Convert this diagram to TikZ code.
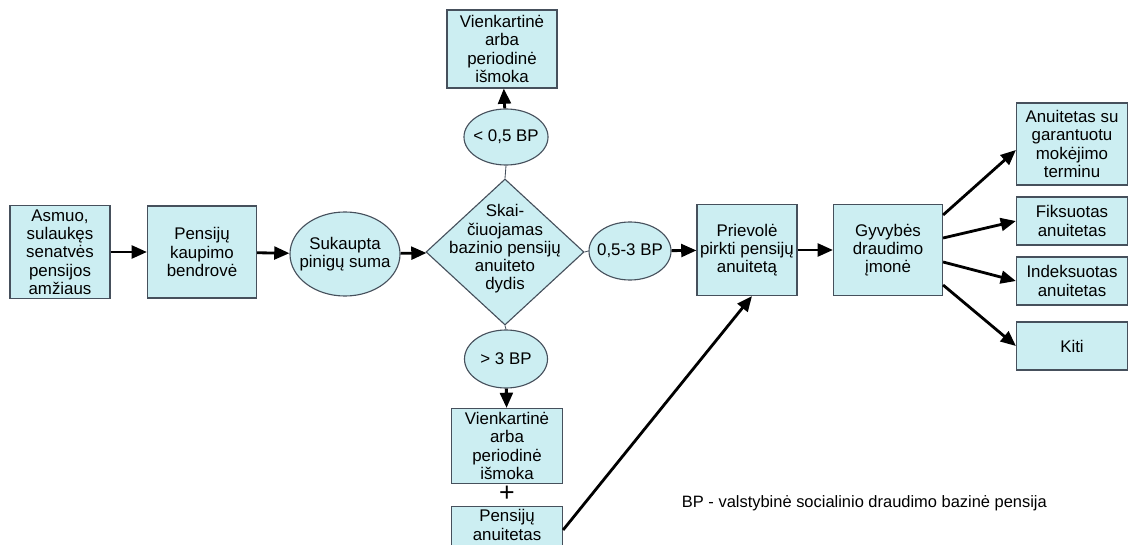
\documentclass[tikz,border=0pt]{standalone}
\usepackage{fontspec}
\setmainfont{Liberation Sans}
\usetikzlibrary{shapes.geometric,arrows.meta,calc}
\definecolor{boxfill}{RGB}{204,238,242}
\definecolor{boxline}{RGB}{70,80,92}
\begin{document}
\begin{tikzpicture}[x=0.025cm, y=-0.025cm,
  font=\fontsize{12}{13}\selectfont,
  every box/.style={draw=boxline, fill=boxfill, line width=0.8pt, align=center, inner sep=1pt},
  box/.style={every box, rectangle},
  oval/.style={every box, ellipse, inner sep=0pt},
  inside/.style={align=center, inner sep=0pt},
  link/.style={line width=2pt, -{Triangle[length=0.38cm, width=0.32cm]}},
  joinline/.style={draw=boxline, line width=0.6pt}]
\useasboundingbox (0,0) rectangle (1134,545);
\clip (0,0) rectangle (1134,545);
% main row
\node [box, minimum width=2.5cm, minimum height=2.33cm] (asmuo) at (60,252)
  {Asmuo,\\sulaukęs\\senatvės\\pensijos\\amžiaus};
\node [box, minimum width=2.725cm, minimum height=2.3cm] (fondas) at (202,252)
  {Pensijų\\kaupimo\\bendrovė};
\node [oval, minimum width=2.75cm, minimum height=2.1cm] (suma) at (345,254) {};
\node [inside] (suma-text) at (suma) {Sukaupta\\pinigų suma};
\node [every box, diamond, inner sep=0pt, minimum width=3.95cm, minimum height=3.65cm] (dydis) at (505,252) {};
\node [inside] (dydis-text) at (505,249)
  {Skai-\\čiuojamas\\bazinio pensijų\\anuiteto\\dydis};
\node [oval, minimum width=2.05cm, minimum height=1.45cm] (mid) at (630,251) {};
\node [inside] (mid-text) at (mid) {0,5-3 BP};
\node [box, minimum width=2.5cm, minimum height=2.275cm] (prievole) at (747,250)
  {Prievolė\\pirkti pensijų\\anuitetą};
\node [box, minimum width=2.725cm, minimum height=2.275cm] (imone) at (888,250)
  {Gyvybės\\draudimo\\įmonė};
% upper branch
\node [oval, minimum width=2.1cm, minimum height=1.4cm] (low) at (506,137) {};
\node [inside] (low-text) at (low) {< 0,5 BP};
\node [box, minimum width=2.75cm, minimum height=1.95cm] (low-pay) at (502,49)
  {Vienkartinė\\arba\\periodinė\\išmoka};
% lower branch
\node [oval, minimum width=2.075cm, minimum height=1.45cm] (high) at (506,359) {};
\node [inside] (high-text) at (high) {> 3 BP};
\node [box, minimum width=2.775cm, minimum height=1.875cm] (high-pay) at (507,446)
  {Vienkartinė\\arba\\periodinė\\išmoka};
\node [font=\fontsize{19}{19}\selectfont, inner sep=0pt] (plus) at (507,494) {+};
\node [box, anchor=north, minimum width=2.775cm, minimum height=1.4cm] (high-ann) at (507,506) {};
\node [inside] (high-ann-text) at (507,525) {Pensijų\\anuitetas};
% annuity types
\foreach \t/\y/\h [count=\i] in {{Anuitetas su\\garantuotu\\mokėjimo\\terminu}/144/2.05,
    {Fiksuotas\\anuitetas}/221/1.2, {Indeksuotas\\anuitetas}/281/1.2, Kiti/346/1.2}
  \node [box, minimum width=2.775cm, minimum height=\h cm] (type-\i) at (1072,\y) {\t};
\node [anchor=west, font=\fontsize{11.7}{13}\selectfont] (note) at (677,503)
  {BP - valstybinė socialinio draudimo bazinė pensija};
% connectors
\draw [link] (asmuo) -- (fondas);
\draw [link] (fondas) -- (suma);
\draw [link] (suma) -- (dydis);
\draw [joinline] (dydis.east) -- (mid.west);
\draw [link] (mid) -- (prievole);
\draw [link] (prievole) -- (imone);
\draw [joinline] (dydis.north) -- (low.south);
\draw [link] (low) -- (low-pay);
\draw [joinline] (dydis.south) -- (high.north);
\draw [link] (high) -- (high-pay);
\draw [link] ($(high-ann.north east)+(0,24)$) -- ($(prievole.south)+(5,0)$);
\foreach \s/\e [count=\i] in {-35/6, -12/0, 12/0, 35/0}
  \draw [link] ($(imone.east)+(0,\s)$) -- ($(type-\i.west)+(0,\e)$);
\end{tikzpicture}
\end{document}
